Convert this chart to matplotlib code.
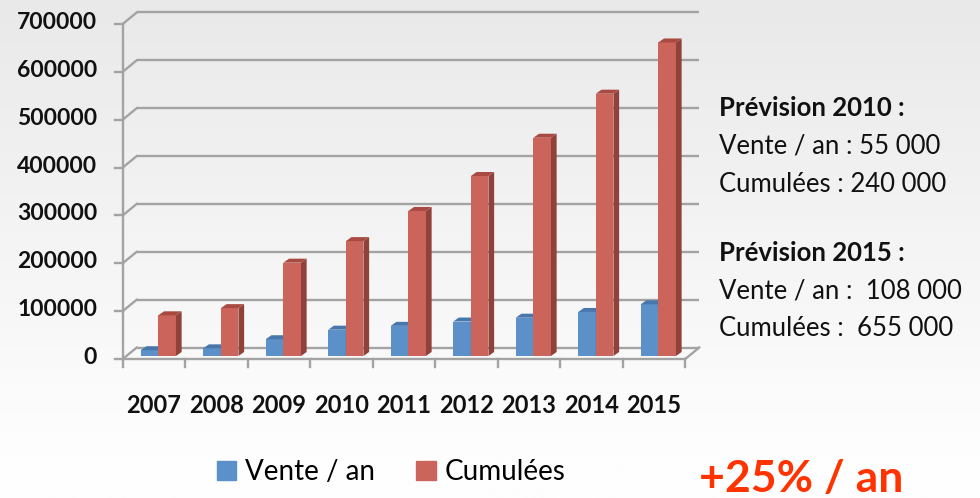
import numpy as np
import matplotlib
matplotlib.use("Agg")
import matplotlib.pyplot as plt
from matplotlib.patches import Polygon, Patch

plt.rcParams['font.family'] = ['Lato', 'DejaVu Sans']

years = ['2007', '2008', '2009', '2010', '2011', '2012', '2013', '2014', '2015']
vente = [12000, 16000, 35000, 55000, 63000, 72000, 80000, 92000, 108000]
cumulees = [85000, 100000, 195000, 240000, 303000, 376000, 456000, 548000, 655000]
y_ticks = [0, 100000, 200000, 300000, 400000, 500000, 600000, 700000]
series_names = ['Vente / an', 'Cumulées']

front = ['#5b90c9', '#cb655b']
side = ['#3f6a9b', '#904139']
top = ['#4877ac', '#a94a42']
grid_col = '#a3a3a3'

# pseudo 3d depth, in data units
wall_dx, wall_dy = 0.224, 24000
bar_dx, bar_dy = 0.07, 6300
cap_dx, cap_dy = 0.091, 8400
bar_w = 0.282

fig = plt.figure(figsize=(9.8, 4.98), dpi=100)

# background gradient
bg = fig.add_axes([0, 0, 1, 1])
grad = np.linspace(0, 1, 256).reshape(-1, 1)
grad = np.clip(grad / 0.92, 0, 1)
bg.imshow(grad, aspect='auto', cmap=matplotlib.colors.LinearSegmentedColormap.from_list(
    'g', ['#e9e9e9', '#fefefe']), extent=[0, 1, 0, 1], origin='upper')
bg.axis('off')

ax = fig.add_axes([103.95 / 980, 129.4 / 498, 606.25 / 980, 359 / 498])
ax.set_xlim(-0.3, 9.4)
ax.set_ylim(-20000, 730000)
ax.axis('off')
ax.patch.set_alpha(0)

n = len(years)
lw = 1.7
# back wall gridlines and left wall connectors
for v in y_ticks:
    ax.plot([wall_dx, n + wall_dx], [v + wall_dy, v + wall_dy], color=grid_col, lw=lw, zorder=1,
            solid_capstyle='butt')
    ax.plot([0, wall_dx], [v, v + wall_dy], color=grid_col, lw=lw, zorder=1)
    ax.plot([-0.13, 0], [v, v], color=grid_col, lw=lw, zorder=1)
    ax.text(-0.41, v + 3000, f'{v}', ha='right', va='center', fontsize=16.5,
            fontweight='bold', color='#111111')
ax.plot([0, 0], [0, y_ticks[-1]], color=grid_col, lw=lw, zorder=1)
# floor
ax.plot([0, n], [0, 0], color=grid_col, lw=lw, zorder=1)
ax.plot([n, n + wall_dx], [0, wall_dy], color=grid_col, lw=lw, zorder=1)
for i in range(n + 1):
    ax.plot([i, i], [0, -17000], color=grid_col, lw=lw, zorder=1)
for i, yr in enumerate(years):
    ax.text(i + 0.5, -97000, yr, ha='center', va='center', fontsize=17,
            fontweight='bold', color='#111111')

# bars
x = np.arange(n)
for s, vals in enumerate([vente, cumulees]):
    x0 = x + 0.5 - bar_w + s * bar_w + bar_dx
    ax.bar(x0, vals, width=bar_w, bottom=bar_dy, align='edge', color=front[s],
           zorder=2 + s, linewidth=0)
    for xl, v in zip(x0, vals):
        xr = xl + bar_w
        h = v + bar_dy
        ax.add_patch(Polygon([(xr, bar_dy), (xr + cap_dx, bar_dy + cap_dy),
                              (xr + cap_dx, h + cap_dy), (xr, h)],
                             closed=True, color=side[s], lw=0, zorder=2 + s))
        ax.add_patch(Polygon([(xl, h), (xr, h), (xr + cap_dx, h + cap_dy),
                              (xl + cap_dx, h + cap_dy)],
                             closed=True, color=top[s], lw=0, zorder=2 + s))

# legend
handles = [Patch(color=front[0], label=series_names[0]),
           Patch(color=front[1], label=series_names[1])]
fig.legend(handles=handles, loc='center', bbox_to_anchor=(391 / 980, 1 - 472 / 498),
           ncol=2, frameon=False, fontsize=20, handlelength=0.7, handleheight=0.7,
           handletextpad=0.3, columnspacing=1.5)

# notes on the right
notes = [('Prévision 2010 :', 'bold', 108), ('Vente / an : 55 000', 'normal', 146),
         ('Cumulées : 240 000', 'normal', 184), ('Prévision 2015 :', 'bold', 253),
         ('Vente / an :  108 000', 'normal', 291), ('Cumulées :  655 000', 'normal', 328)]
for txt, w, yp in notes:
    fig.text(719 / 980, 1 - yp / 498, txt, ha='left', va='center', fontsize=18.5,
             fontweight=w, color='#111111')

fig.text(699 / 980, 1 - 479 / 498, '+25% / an', ha='left', va='center', fontsize=32,
         fontweight='bold', color='#ff3300')

fig.savefig('out.png', dpi=100)
